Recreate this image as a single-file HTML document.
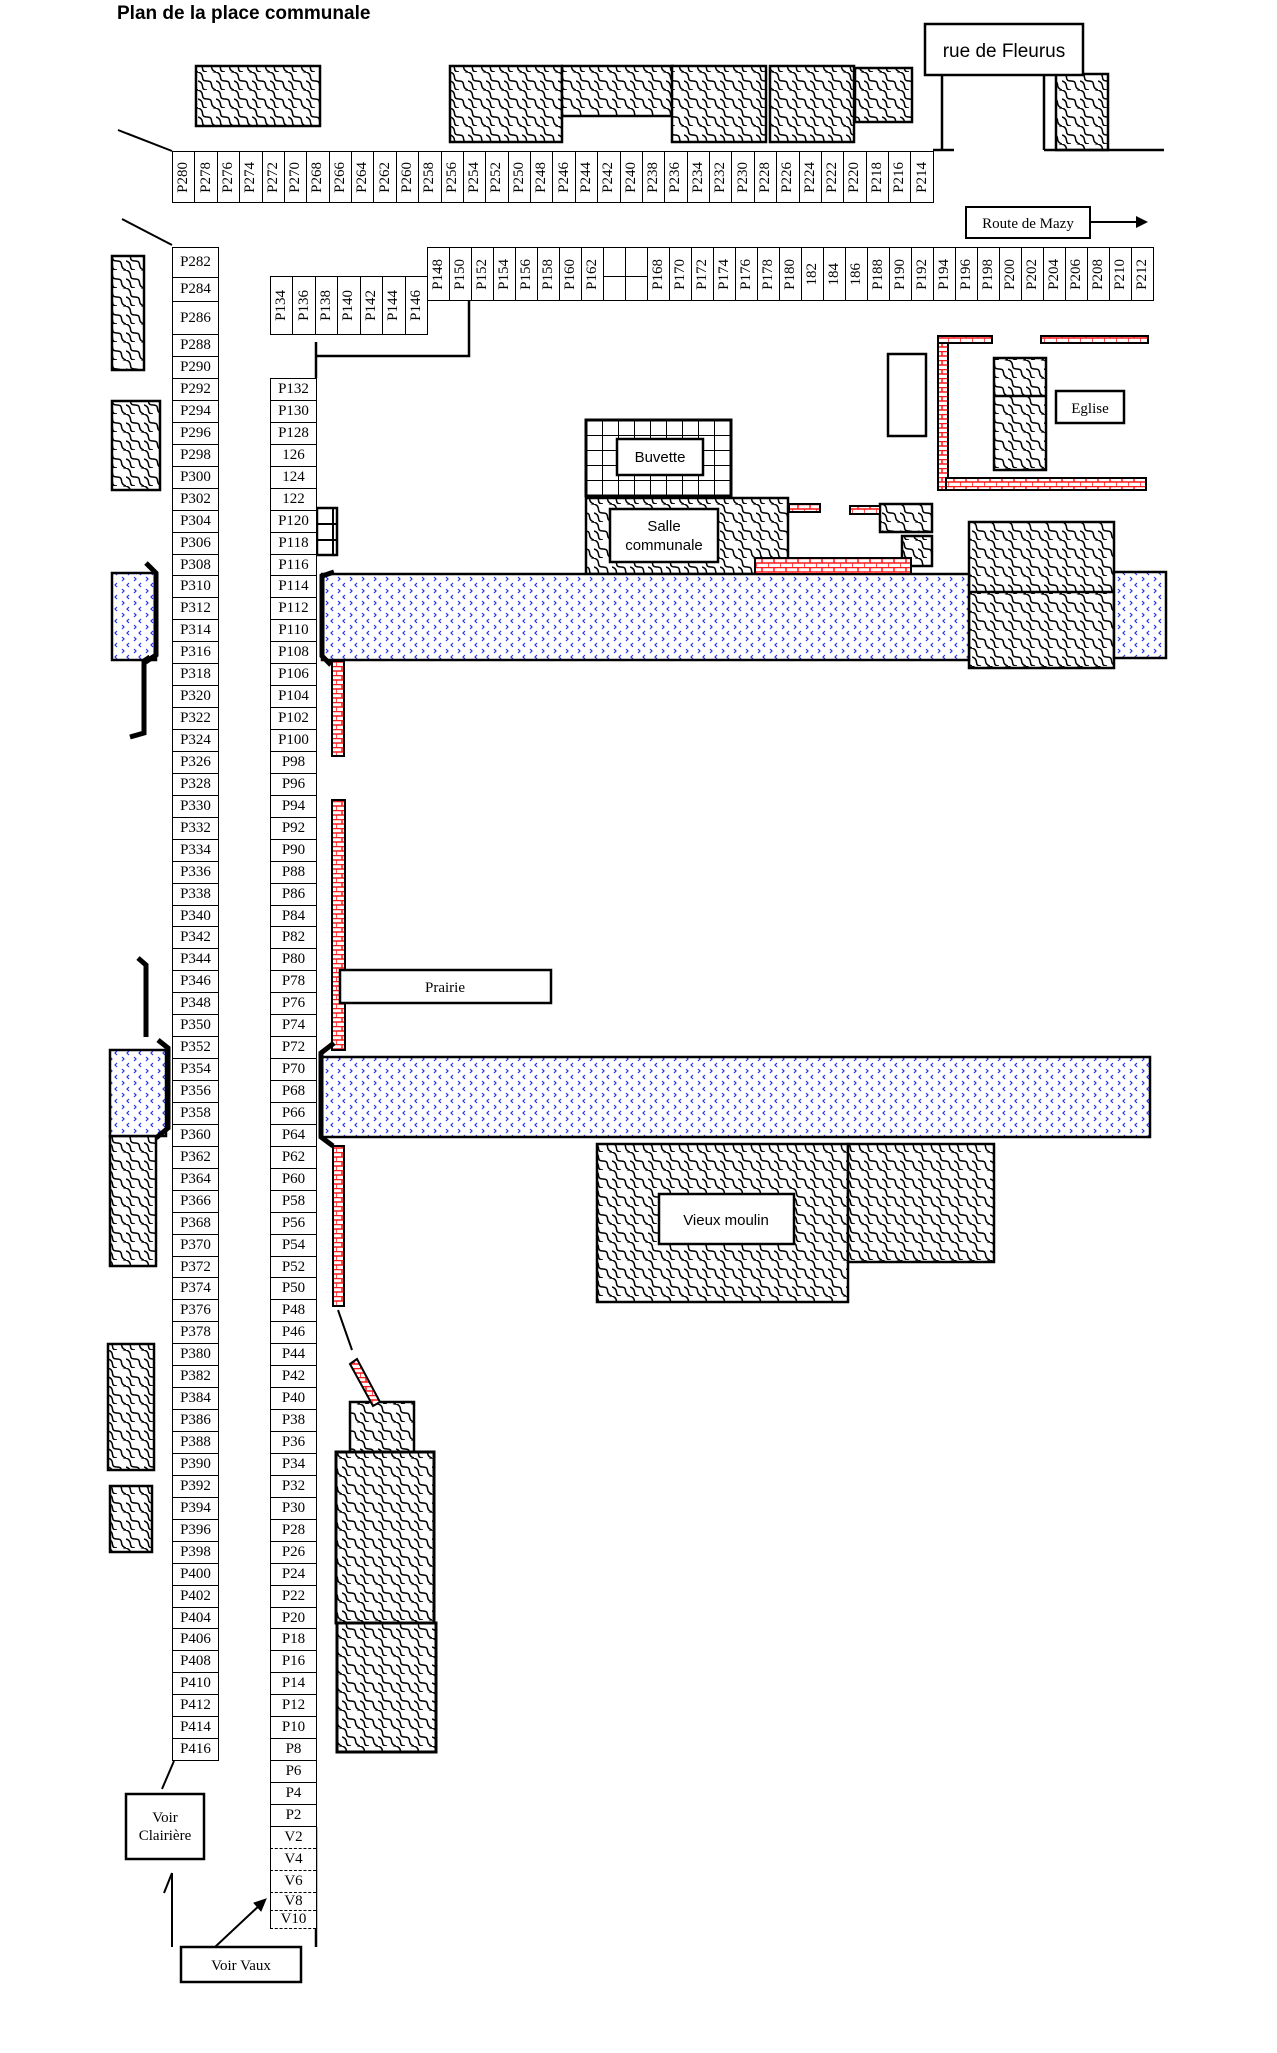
<!DOCTYPE html>
<html><head><meta charset="utf-8"><style>
body{margin:0;background:#fff;width:1277px;height:2053px;position:relative;overflow:hidden;font-family:"Liberation Serif",serif;}
svg{position:absolute;left:0;top:0}
.row{position:absolute;display:flex;border:1px solid #000;box-sizing:border-box;background:#fff}
.row>div{flex:1;border-right:1px solid #000;display:flex;align-items:center;justify-content:center;font-size:15px;position:relative}
.row>div:last-child{border-right:none}
.row>div span{writing-mode:vertical-rl;transform:rotate(180deg);line-height:1}
.col{position:absolute;border:1px solid #000;border-bottom:none;box-sizing:border-box;background:#fff}
.col>div{height:21.94px;border-bottom:1px solid #000;box-sizing:border-box;text-align:center;font-size:15px;line-height:21px}
.col>div.v{border:1px dashed #000;border-top:none;border-right:none;margin-left:-1px}
.blank:after{content:"";position:absolute;left:0;right:0;top:28px;border-top:1px solid #000}
</style></head><body>
<svg width="1277" height="2053" xmlns="http://www.w3.org/2000/svg">
<defs>
<pattern id="h" width="18" height="18" patternUnits="userSpaceOnUse">
<rect width="18" height="18" fill="#fff"/>
<path d="M0,0 C8,2.5 1,9 9,9 C17,9 10,15.5 18,18" fill="none" stroke="#000" stroke-width="1.5"/>
<path d="M9,-9 C17,-6.5 10,0 18,0 M0,9 C8,11.5 1,18 9,18" fill="none" stroke="#000" stroke-width="1.5"/>
</pattern>
<pattern id="b" width="12" height="12" patternUnits="userSpaceOnUse">
<rect width="12" height="12" fill="#fff"/>
<path d="M2,1 l2,2 l-2,2 M9,7 l-2,2 l2,2" fill="none" stroke="#2233ee" stroke-width="1.2"/>
</pattern>
<pattern id="r" width="12" height="9" patternUnits="userSpaceOnUse">
<rect width="12" height="9" fill="#fff"/>
<path d="M0,0.5 H12 M0,5 H12 M6,0 V4.5 M0,4.5 V9" fill="none" stroke="#ff1a1a" stroke-width="1.5"/>
</pattern>
<pattern id="g" width="16" height="15" patternUnits="userSpaceOnUse" x="586" y="420">
<rect width="16" height="15" fill="#fff"/>
<path d="M0,0 H16 M0,0 V15" stroke="#000" stroke-width="2"/>
</pattern>
</defs>
<text x="117" y="19" font-family="Liberation Sans, sans-serif" font-weight="bold" font-size="19">Plan de la place communale</text>
<g fill="url(#h)" stroke="#000" stroke-width="2.5">
<rect x="196" y="66" width="124" height="60"/>
<rect x="450" y="66" width="112" height="76"/>
<rect x="562" y="66" width="111" height="50"/>
<rect x="672" y="66" width="94" height="76"/>
<rect x="770" y="66" width="84" height="76"/>
<rect x="855" y="68" width="57" height="54"/>
<rect x="1056" y="74" width="52" height="76"/>
<rect x="112" y="256" width="32" height="114"/>
<rect x="112" y="401" width="48" height="89"/>
<rect x="110" y="1136" width="46" height="130"/>
<rect x="108" y="1344" width="46" height="126"/>
<rect x="110" y="1486" width="42" height="66"/>
<rect x="969" y="522" width="145" height="146"/>
<rect x="350" y="1402" width="64" height="50"/>
<rect x="336" y="1452" width="98" height="171" stroke-width="3"/>
<rect x="337" y="1623" width="99" height="129" stroke-width="3"/>
<rect x="586" y="498" width="202" height="76"/>
<rect x="880" y="504" width="52" height="28"/>
<rect x="902" y="536" width="30" height="30"/>
<rect x="994" y="358" width="52" height="112"/>
<rect x="597" y="1144" width="251" height="158"/>
<rect x="848" y="1144" width="146" height="118"/>
</g>
<g stroke="#000" stroke-width="2.5"><line x1="969" y1="592" x2="1114" y2="592"/><line x1="994" y1="396" x2="1046" y2="396"/></g>
<g fill="url(#b)" stroke="#000" stroke-width="2.5">
<rect x="112" y="573" width="44" height="87"/>
<rect x="110" y="1050" width="56" height="86"/>
<rect x="322" y="574" width="647" height="86"/>
<rect x="1114" y="572" width="52" height="86"/>
<rect x="322" y="1057" width="828" height="80"/>
</g>
<g fill="url(#r)" stroke="#000" stroke-width="2">
<rect x="332" y="661" width="12" height="95"/>
<rect x="332" y="800" width="13" height="250"/>
<rect x="333" y="1146" width="11" height="160"/>
<rect x="755" y="558" width="156" height="16"/>
<rect x="789" y="504" width="31" height="8"/>
<rect x="850" y="506" width="30" height="8"/>
<rect x="938" y="336" width="10" height="154"/>
<rect x="938" y="336" width="54" height="7"/>
<rect x="946" y="478" width="200" height="12"/>
<rect x="1041" y="336" width="107" height="7"/>
<polygon points="350,1364 357,1359 380,1402 373,1406"/>
</g>
<rect x="586" y="420" width="145" height="76" fill="url(#g)" stroke="#000" stroke-width="3"/>
<g fill="#fff" stroke="#000" stroke-width="2.5">
<rect x="925" y="24" width="158" height="51"/>
<rect x="966" y="207" width="124" height="31" stroke-width="2"/>
<rect x="340" y="970" width="211" height="33"/>
<rect x="617" y="439" width="86" height="36"/>
<rect x="610" y="509" width="108" height="53"/>
<rect x="888" y="354" width="38" height="82"/>
<rect x="1056" y="391" width="68" height="32"/>
<rect x="659" y="1194" width="135" height="50"/>
<rect x="126" y="1794" width="78" height="65"/>
<rect x="181" y="1947" width="120" height="35"/>
<rect x="317" y="508" width="20" height="47"/>
</g>
<g stroke="#000" stroke-width="2"><line x1="333" y1="508" x2="333" y2="555"/><line x1="317" y1="524" x2="337" y2="524"/><line x1="317" y1="540" x2="337" y2="540"/></g>
<g stroke="#000" stroke-width="2.5" fill="none">
<line x1="942" y1="75" x2="942" y2="150"/><line x1="933" y1="150" x2="954" y2="150"/>
<line x1="1044" y1="75" x2="1044" y2="150"/><line x1="1044" y1="150" x2="1164" y2="150"/>
<line x1="118" y1="130" x2="172" y2="151" stroke-width="2"/>
<line x1="122" y1="219" x2="172" y2="245" stroke-width="2"/>
<line x1="1090" y1="222" x2="1138" y2="222" stroke-width="2"/>
<polyline points="469,300 469,356 316,356"/><line x1="316" y1="342" x2="316" y2="378"/>
<line x1="338" y1="1310" x2="352" y2="1350" stroke-width="2"/>
<line x1="174" y1="1761" x2="162" y2="1789" stroke-width="2"/>
<line x1="172" y1="1947" x2="172" y2="1873" stroke-width="2"/><line x1="172" y1="1873" x2="164" y2="1893" stroke-width="2"/>
<line x1="215" y1="1947" x2="262" y2="1903" stroke-width="2"/>
<line x1="316" y1="1827" x2="316" y2="1947"/>
</g>
<polygon points="1136,216 1148,222 1136,228" fill="#000"/>
<polygon points="266,1899 254,1903 261,1911" fill="#000" stroke="#000" stroke-width="1"/>
<g stroke="#000" stroke-width="5" fill="none" stroke-linejoin="miter">
<polyline points="146,563 156,573 156,655 144,663"/>
<polyline points="150,657 144,661 144,733 130,737"/>
<polyline points="138,958 146,965 146,1037"/>
<polyline points="158,1040 168,1048 168,1128 156,1138"/>
<polyline points="334,572 322,576 322,656 331,665"/>
<polyline points="334,1043 321,1053 321,1137 333,1146"/>
</g>
<g font-family="Liberation Sans, sans-serif" font-size="15" text-anchor="middle">
<text x="1004" y="57" font-size="19">rue de Fleurus</text>
<text x="660" y="462">Buvette</text>
<text x="664" y="531">Salle</text>
<text x="664" y="550">communale</text>
<text x="726" y="1225">Vieux moulin</text>
</g>
<g font-family="Liberation Serif, serif" font-size="15" text-anchor="middle">
<text x="1028" y="228">Route de Mazy</text>
<text x="445" y="992">Prairie</text>
<text x="1090" y="413">Eglise</text>
<text x="165" y="1822">Voir</text>
<text x="165" y="1840">Clairière</text>
<text x="241" y="1970">Voir Vaux</text>
</g>
</svg>

<div class="row" style="left:172px;top:151px;width:762px;height:52px">
<div><span>P280</span></div><div><span>P278</span></div><div><span>P276</span></div><div><span>P274</span></div><div><span>P272</span></div><div><span>P270</span></div><div><span>P268</span></div><div><span>P266</span></div><div><span>P264</span></div><div><span>P262</span></div><div><span>P260</span></div><div><span>P258</span></div><div><span>P256</span></div><div><span>P254</span></div><div><span>P252</span></div><div><span>P250</span></div><div><span>P248</span></div><div><span>P246</span></div><div><span>P244</span></div><div><span>P242</span></div><div><span>P240</span></div><div><span>P238</span></div><div><span>P236</span></div><div><span>P234</span></div><div><span>P232</span></div><div><span>P230</span></div><div><span>P228</span></div><div><span>P226</span></div><div><span>P224</span></div><div><span>P222</span></div><div><span>P220</span></div><div><span>P218</span></div><div><span>P216</span></div><div><span>P214</span></div>
</div>

<div class="row" style="left:270px;top:276px;width:158px;height:59px">
<div><span>P134</span></div><div><span>P136</span></div><div><span>P138</span></div><div><span>P140</span></div><div><span>P142</span></div><div><span>P144</span></div><div><span>P146</span></div>
</div>

<div class="row" style="left:427px;top:247px;width:727px;height:54px">
<div><span>P148</span></div><div><span>P150</span></div><div><span>P152</span></div><div><span>P154</span></div><div><span>P156</span></div><div><span>P158</span></div><div><span>P160</span></div><div><span>P162</span></div><div class="blank"></div><div class="blank"></div><div><span>P168</span></div><div><span>P170</span></div><div><span>P172</span></div><div><span>P174</span></div><div><span>P176</span></div><div><span>P178</span></div><div><span>P180</span></div><div><span>182</span></div><div><span>184</span></div><div><span>186</span></div><div><span>P188</span></div><div><span>P190</span></div><div><span>P192</span></div><div><span>P194</span></div><div><span>P196</span></div><div><span>P198</span></div><div><span>P200</span></div><div><span>P202</span></div><div><span>P204</span></div><div><span>P206</span></div><div><span>P208</span></div><div><span>P210</span></div><div><span>P212</span></div>
</div>

<div class="col" style="left:172px;top:247px;width:47px">
<div style="height:30px;line-height:29px">P282</div><div style="height:24px;line-height:23px">P284</div><div style="height:33px;line-height:32px">P286</div><div style="height:22px">P288</div><div style="height:22px">P290</div>
<div>P292</div><div>P294</div><div>P296</div><div>P298</div><div>P300</div><div>P302</div><div>P304</div><div>P306</div><div>P308</div><div>P310</div><div>P312</div><div>P314</div><div>P316</div><div>P318</div><div>P320</div><div>P322</div><div>P324</div><div>P326</div><div>P328</div><div>P330</div><div>P332</div><div>P334</div><div>P336</div><div>P338</div><div>P340</div><div>P342</div><div>P344</div><div>P346</div><div>P348</div><div>P350</div><div>P352</div><div>P354</div><div>P356</div><div>P358</div><div>P360</div><div>P362</div><div>P364</div><div>P366</div><div>P368</div><div>P370</div><div>P372</div><div>P374</div><div>P376</div><div>P378</div><div>P380</div><div>P382</div><div>P384</div><div>P386</div><div>P388</div><div>P390</div><div>P392</div><div>P394</div><div>P396</div><div>P398</div><div>P400</div><div>P402</div><div>P404</div><div>P406</div><div>P408</div><div>P410</div><div>P412</div><div>P414</div><div>P416</div>
</div>

<div class="col" style="left:270px;top:378px;width:47px">
<div>P132</div><div>P130</div><div>P128</div><div>126</div><div>124</div><div>122</div><div>P120</div><div>P118</div><div>P116</div><div>P114</div><div>P112</div><div>P110</div><div>P108</div><div>P106</div><div>P104</div><div>P102</div><div>P100</div><div>P98</div><div>P96</div><div>P94</div><div>P92</div><div>P90</div><div>P88</div><div>P86</div><div>P84</div><div>P82</div><div>P80</div><div>P78</div><div>P76</div><div>P74</div><div>P72</div><div>P70</div><div>P68</div><div>P66</div><div>P64</div><div>P62</div><div>P60</div><div>P58</div><div>P56</div><div>P54</div><div>P52</div><div>P50</div><div>P48</div><div>P46</div><div>P44</div><div>P42</div><div>P40</div><div>P38</div><div>P36</div><div>P34</div><div>P32</div><div>P30</div><div>P28</div><div>P26</div><div>P24</div><div>P22</div><div>P20</div><div>P18</div><div>P16</div><div>P14</div><div>P12</div><div>P10</div><div>P8</div><div>P6</div><div>P4</div><div>P2</div>
<div class="v">V2</div><div class="v">V4</div><div class="v">V6</div><div class="v" style="height:18px;line-height:17px">V8</div><div class="v" style="height:18px;line-height:17px">V10</div>
</div>
</body></html>
